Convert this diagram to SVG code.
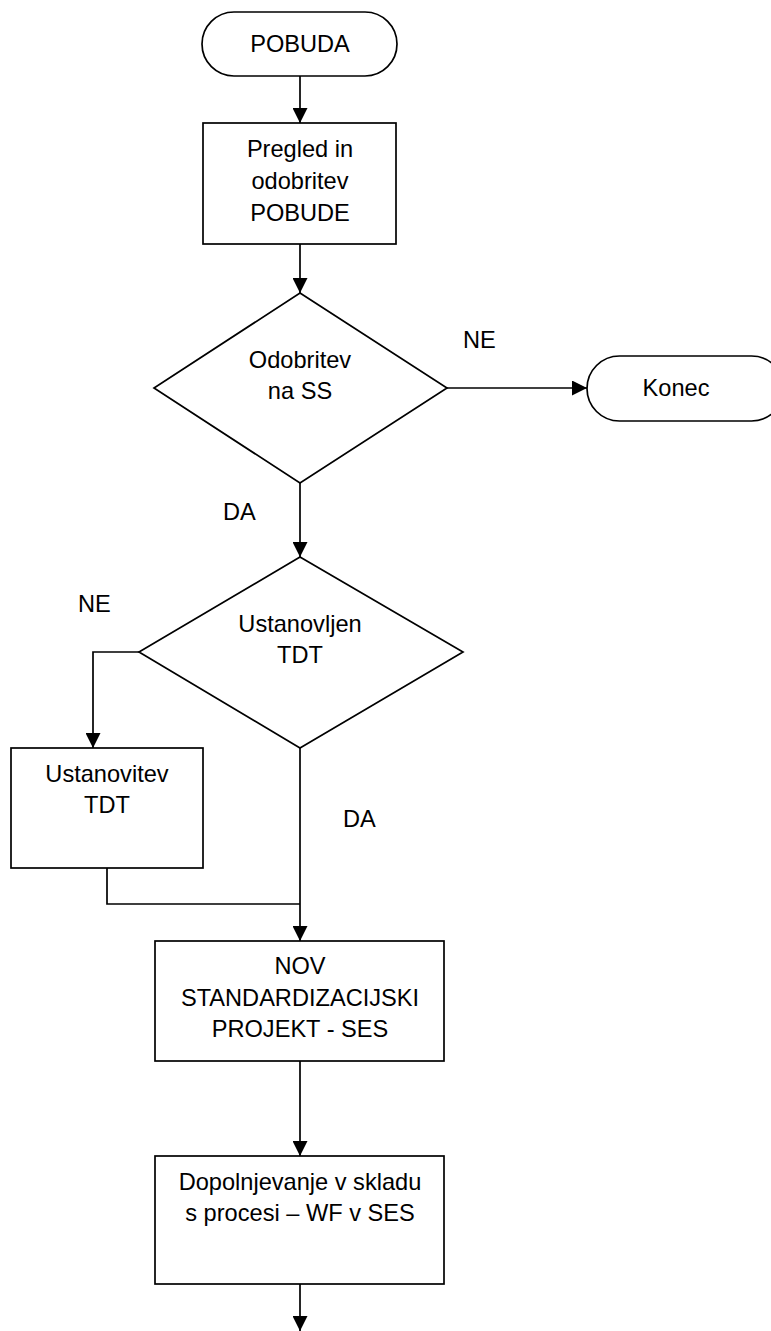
<svg xmlns="http://www.w3.org/2000/svg" width="771" height="1331" viewBox="0 0 771 1331">
  <style>
    .shape { fill: #ffffff; stroke: #000000; stroke-width: 1.7; }
    .wire { fill: none; stroke: #000000; stroke-width: 1.7; }
    text { font-family: "Liberation Sans", Arial, sans-serif; font-size: 23.6px; fill: #000000; text-anchor: middle; }
    .lbl { text-anchor: start; }
  </style>
  <defs>
    <marker id="arrow" viewBox="0 0 15 15" refX="15" refY="7.5" markerWidth="15" markerHeight="15" markerUnits="userSpaceOnUse" orient="auto">
      <path d="M0,0 L15,7.5 L0,15 Z" fill="#000000"/>
    </marker>
  </defs>

  <!-- connectors -->
  <g id="connectors">
    <line class="wire" x1="300" y1="76" x2="300" y2="123" marker-end="url(#arrow)"/>
    <line class="wire" x1="300" y1="244" x2="300" y2="293" marker-end="url(#arrow)"/>
    <line class="wire" x1="447" y1="388" x2="587" y2="388" marker-end="url(#arrow)"/>
    <line class="wire" x1="300" y1="483" x2="300" y2="557" marker-end="url(#arrow)"/>
    <polyline class="wire" points="139,652 93,652 93,748" marker-end="url(#arrow)"/>
    <line class="wire" x1="300" y1="748" x2="300" y2="941" marker-end="url(#arrow)"/>
    <polyline class="wire" points="107,868 107,904 300,904"/>
    <line class="wire" x1="300" y1="1061" x2="300" y2="1156" marker-end="url(#arrow)"/>
    <line class="wire" x1="300" y1="1284" x2="300" y2="1331" marker-end="url(#arrow)"/>
    <text class="lbl" x="463" y="348">NE</text>
    <text class="lbl" x="223" y="520">DA</text>
    <text class="lbl" x="78" y="612">NE</text>
    <text class="lbl" x="343" y="827">DA</text>
  </g>

  <g id="pobuda">
    <rect class="shape" x="202" y="12" width="195" height="64" rx="32" ry="32"/>
    <text x="300" y="52">POBUDA</text>
  </g>

  <g id="pregled">
    <rect class="shape" x="203" y="123" width="193" height="121"/>
    <text x="300" y="157">Pregled in</text>
    <text x="300" y="189">odobritev</text>
    <text x="300" y="221">POBUDE</text>
  </g>

  <g id="odobritev">
    <polygon class="shape" points="300,293 447,388 300,483 154,388"/>
    <text x="300" y="368">Odobritev</text>
    <text x="300" y="399">na SS</text>
  </g>

  <g id="konec">
    <rect class="shape" x="587" y="356" width="197" height="65" rx="32.5" ry="32.5"/>
    <text x="676" y="396">Konec</text>
  </g>

  <g id="ustanovljen">
    <polygon class="shape" points="300,557 463,652 300,748 139,652"/>
    <text x="300" y="632">Ustanovljen</text>
    <text x="300" y="663">TDT</text>
  </g>

  <g id="ustanovitev">
    <rect class="shape" x="11" y="748" width="192" height="120"/>
    <text x="107" y="782">Ustanovitev</text>
    <text x="107" y="813">TDT</text>
  </g>

  <g id="projekt">
    <rect class="shape" x="155" y="941" width="289" height="120"/>
    <text x="300" y="974">NOV</text>
    <text x="300" y="1006">STANDARDIZACIJSKI</text>
    <text x="300" y="1037">PROJEKT - SES</text>
  </g>

  <g id="dopolnjevanje">
    <rect class="shape" x="155" y="1156" width="289" height="128"/>
    <text x="300" y="1190">Dopolnjevanje v skladu</text>
    <text x="300" y="1221">s procesi – WF v SES</text>
  </g>
</svg>
